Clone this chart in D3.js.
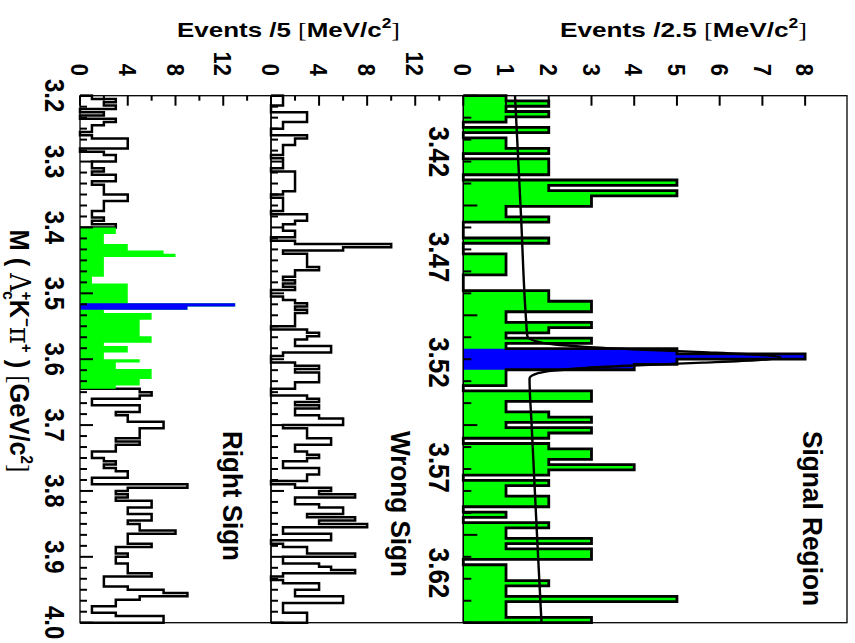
<!DOCTYPE html>
<html><head><meta charset="utf-8">
<script src="https://cdn.jsdelivr.net/npm/d3@7/dist/d3.min.js"></script>
<style>
html,body{margin:0;padding:0;background:#fff}
svg{display:block}
text{font-family:"Liberation Sans",Arial,Helvetica,sans-serif;font-weight:bold;fill:#000}
</style></head>
<body><svg id="c" width="855" height="643"></svg>
<script>
// ---------------- data ----------------
// Signal region: 2.5 MeV bins
const sigStart = 3.3933, sigEnd = 3.6436;
const sigCounts = [1,2,1,2,1,0,2,0,1,1, 2,0,2,2,2,0,5,2,5,3, 3,1,1,2,0,0,0,2,0,0,
  1,1,1,1,0,0,0,2,2,3, 3,1,1,3,2,1,3,1,5,8, 5,4,1,1,1,0,3,3,1,1, 2,3,1,3,2,0,2,3,3,2,
  4,2,0,2,1,1,2,2,0,1, 0,2,1,1,3,1,3,3,0,1, 1,1,2,1,1,5,1,1,1,3];
const sigBlueBins = [48, 49, 50, 51];
// fit (background + signal)
const fitMass  = [3.3933,3.4500,3.5000,3.5076,3.5101,3.51135,3.5126,3.51385,3.5151,3.51635,3.5176,
                  3.51885,3.5201,3.52135,3.5226,3.52385,3.5251,3.5276,3.5500,3.6000,3.6436];
const fitValue = [1.21,1.35,1.47,1.50,1.73,2.10,2.86,4.08,5.59,6.90,7.42,
                  6.90,5.60,4.09,2.87,2.12,1.75,1.55,1.60,1.72,1.83];
const sigValueTicks = [0,1,2,3,4,5,6,7,8];
const sigMassLabels = [3.42, 3.47, 3.52, 3.57, 3.62];

// Wrong / right sign: 5 MeV bins from 3.2 to 4.0
const massStart = 3.2, massEnd = 4.0;
const rsCounts = [1,3,2,3,0,2,0,3,2,1, 1,0,1,4,4,4,0,2,3,3, 1,1,2,1,3,3,1,2,2,2, 4,4,2,2,2,1,1,2,1,3,
  3,3,2,2,2,4,4,7,8,2, 2,2,2,2,2,1,1,4,4,4, 4,4,4,13,9,2,6,6,5,5, 5,5,5,6,6,2,4,4,2,2,
  5,3,3,6,6,6,5,5,3, 5,6,5,1,1,5,5,3,4,4, 7,7,5,5,5,3,5,3,
  3,1,1,2,3,2,3,4,4,1, 1,9,4,3,4,3,6,6,4,4, 6,6,4,5,5,8,4,4,4,6, 3,3,4,3,3,4,4,4,6,2, 2,2,4,7,9,5,3,3,1,1, 3,7,7];
const rsGreenBins = [40, 88];
const rsBlueBins = [63, 64];
const wsCounts = [1,1,1,0,0,3,3,3,1,1, 0,0,3,2,2,1,1,1,0,1, 1,1,0,2,2,2,2,2,2,1, 0,1,1,1,1,0,3,3,2,1,
  1,2,2,0,2,10,6,1,3,3, 3,3,
  4,2,2,1,2,1,2,0,0,1, 2,3,2,3,2,2,2,2,0,3, 4,3,2,2,5,5,1,0,0,2, 4,2,4,4,4,2,2,0,0,3, 4,2,4,2,2,4,6,6,1,3, 3,3,5,5,2,
  2,3,4,3,1,1,4,4,3,3, 0,2,5,4,7,2,2,4,6,6, 3,7,4,8,1,1,5,5,0,1, 3,3,7,1,1,4,5,7,1,0, 1,4,4,2,2,6,6,1,1,1, 3,3,3];
const bottomValueTicks = [0,4,8,12];
const massLabels = ["3.2","3.3","3.4","3.5","3.6","3.7","3.8","3.9","4.0"];

// ---------------- layout (drawn upright, then turned 90deg clockwise) ----------------
const GREEN = "#00ff00", BLUE = "#0000ff";
const SY = 1.12;
const X0 = 95.7, X1 = 622.7;
const SIG = {top: 8, bot: 391.7}, WS = {top: 391.7, bot: 584}, RS = {top: 584, bot: 775};

const svg = d3.select("#c");
const g = svg.append("g").attr("transform", "translate(855,0) rotate(90)");

const xSig = d3.scaleLinear().domain([sigStart, sigEnd]).range([X0, X1]);
const xMass = d3.scaleLinear().domain([massStart, massEnd]).range([X0, X1]);
const ySig = d3.scaleLinear().domain([0, 8.98]).range([SIG.bot, SIG.top]);
const yWS = d3.scaleLinear().domain([0, 16]).range([WS.bot, WS.top]);
const yRS = d3.scaleLinear().domain([0, 16]).range([RS.bot, RS.top]);

const sigEdges = d3.range(sigCounts.length + 1).map(i => sigStart + i * (sigEnd - sigStart) / sigCounts.length);
const massEdges = d3.range(rsCounts.length + 1).map(i => massStart + i * (massEnd - massStart) / rsCounts.length);

function stepPts(counts, edges, i0, i1) {
  const p = [[edges[i0], 0]];
  for (let i = i0; i <= i1; i++) { p.push([edges[i], counts[i]]); p.push([edges[i + 1], counts[i]]); }
  p.push([edges[i1 + 1], 0]);
  return p;
}
function drawStep(xs, ys, counts, edges, i0, i1, fill, stroke, sw) {
  const line = d3.line().x(d => xs(d[0])).y(d => ys(d[1]));
  g.append("path").attr("d", line(stepPts(counts, edges, i0, i1)) + (fill !== "none" ? "Z" : ""))
    .attr("fill", fill).attr("stroke", stroke).attr("stroke-width", sw).attr("stroke-linejoin", "miter");
}

// ---- signal panel ----
drawStep(xSig, ySig, sigCounts, sigEdges, 0, sigCounts.length - 1, GREEN, "none", 0);
drawStep(xSig, ySig, sigCounts, sigEdges, sigBlueBins[0], sigBlueBins[sigBlueBins.length - 1], BLUE, "none", 0);
drawStep(xSig, ySig, sigCounts, sigEdges, 0, sigCounts.length - 1, "none", "#000", 2.8);
g.append("path")
  .attr("d", d3.line().x((d, i) => xSig(fitMass[i])).y(d => ySig(d)).curve(d3.curveMonotoneX)(fitValue))
  .attr("fill", "none").attr("stroke", "#000").attr("stroke-width", 2.4);

// ---- wrong sign ----
drawStep(xMass, yWS, wsCounts, massEdges, 0, wsCounts.length - 1, "none", "#000", 2.5);

// ---- right sign ----
drawStep(xMass, yRS, rsCounts, massEdges, 0, rsGreenBins[0] - 1, "none", "#000", 2.5);
drawStep(xMass, yRS, rsCounts, massEdges, rsGreenBins[1] + 1, rsCounts.length - 1, "none", "#000", 2.5);
drawStep(xMass, yRS, rsCounts, massEdges, rsGreenBins[0], rsGreenBins[1], GREEN, "none", 0);
drawStep(xMass, yRS, rsCounts, massEdges, rsBlueBins[0], rsBlueBins[1], BLUE, "none", 0);

// ---- frames ----
[SIG, WS, RS].forEach(p => g.append("rect").attr("x", X0).attr("y", p.top)
  .attr("width", X1 - X0).attr("height", p.bot - p.top)
  .attr("fill", "none").attr("stroke", "#000").attr("stroke-width", 1.3));

// ---- value-axis ticks and labels ----
function txt(x, y, str, size, anchor) {
  return g.append("text").attr("transform", `translate(${x},${y}) scale(1,${SY})`)
    .attr("text-anchor", anchor).attr("font-size", size).text(str);
}
sigValueTicks.forEach(v => {
  g.append("line").attr("x1", X0).attr("x2", X0 + 10).attr("y1", ySig(v)).attr("y2", ySig(v)).attr("stroke", "#000").attr("stroke-width", 2);
  txt(76, ySig(v) + 0.36 * 22 * SY, String(v), 22, "end");
});
[yWS, yRS].forEach(ys => {
  d3.range(0, 16, 2).forEach(v => {
    const L = v % 4 === 0 ? 10 : 5;
    g.append("line").attr("x1", X0).attr("x2", X0 + L).attr("y1", ys(v)).attr("y2", ys(v)).attr("stroke", "#000").attr("stroke-width", 2);
  });
  bottomValueTicks.forEach(v => txt(76, ys(v) + 0.36 * 22 * SY, String(v), 22, "end"));
});

// ---- mass-axis ticks ----
const sigTicks = d3.range(25).map(k => sigStart + k * (sigEnd - sigStart) / 24);
sigTicks.forEach((m, k) => {
  const L = k % 5 === 0 ? 14 : 8;
  g.append("line").attr("x1", xSig(m)).attr("x2", xSig(m)).attr("y1", SIG.bot).attr("y2", SIG.bot - L).attr("stroke", "#000").attr("stroke-width", 2);
});
sigMassLabels.forEach(m => txt(xSig(m), 416 + 0.36 * 26 * SY, m.toFixed(2), 26, "middle"));

const massTicks = d3.range(49).map(k => massStart + k * (massEnd - massStart) / 48);
[WS, RS].forEach(p => massTicks.forEach((m, k) => {
  const L = k % 6 === 0 ? 13 : 7;
  g.append("line").attr("x1", xMass(m)).attr("x2", xMass(m)).attr("y1", p.bot).attr("y2", p.bot - L).attr("stroke", "#000").attr("stroke-width", 2);
}));
massLabels.forEach(s => txt(xMass(+s), 800 + 0.36 * 24 * SY, s, 24, "middle"));

// ---- titles ----
function evTitle(cy, bin, len) {
  const t = g.append("text").attr("transform", `translate(37,${cy}) rotate(-90)`)
    .attr("text-anchor", "middle").attr("font-size", 21)
    .attr("textLength", len).attr("lengthAdjust", "spacingAndGlyphs");
  t.append("tspan").text(`Events /${bin} `);
  t.append("tspan").attr("font-family", "'Liberation Serif',serif").attr("font-weight", "normal").text("[");
  t.append("tspan").text("MeV/c");
  t.append("tspan").attr("font-size", 14).attr("dy", -9).text("2");
  t.append("tspan").attr("font-family", "'Liberation Serif',serif").attr("font-weight", "normal").attr("dy", 9).text("]");
}
evTitle(855 - 683.5, "2.5", 247);
evTitle(855 - 288.5, "5", 223);

function panelLabel(str, base, len) {
  g.append("text").attr("transform", `translate(431,${base}) scale(1,${SY})`)
    .attr("font-size", 25).attr("textLength", len).attr("lengthAdjust", "spacingAndGlyphs").text(str);
}
panelLabel("Signal Region", 52, 175);
panelLabel("Wrong Sign", 464, 146);
panelLabel("Right Sign", 632, 130);

// mass title
const mt = g.append("text").attr("transform", `translate(351,845) scale(1,${SY})`)
  .attr("text-anchor", "middle").attr("font-size", 25)
  .attr("textLength", 243).attr("lengthAdjust", "spacingAndGlyphs");
const sym = "'DejaVu Serif','Liberation Serif',serif";
mt.append("tspan").text("M ( ");
mt.append("tspan").attr("font-family", sym).attr("font-weight", "normal").text("Λ");
mt.append("tspan").attr("font-size", 15).attr("dy", -10).text("+");
mt.append("tspan").attr("font-size", 15).attr("dx", -9).attr("dy", 16).text("c");
mt.append("tspan").attr("dy", -6).text("K");
mt.append("tspan").attr("font-size", 15).attr("dy", -10).text("−");
mt.append("tspan").attr("font-family", sym).attr("font-weight", "normal").attr("dy", 10).text("π");
mt.append("tspan").attr("font-size", 15).attr("dy", -10).text("+");
mt.append("tspan").attr("dy", 10).text(" )  ");
mt.append("tspan").attr("font-family", "'Liberation Serif',serif").attr("font-weight", "normal").text("[");
mt.append("tspan").text("GeV/c");
mt.append("tspan").attr("font-size", 15).attr("dy", -10).text("2");
mt.append("tspan").attr("font-family", "'Liberation Serif',serif").attr("font-weight", "normal").attr("dy", 10).text("]");
</script>
</body></html>
